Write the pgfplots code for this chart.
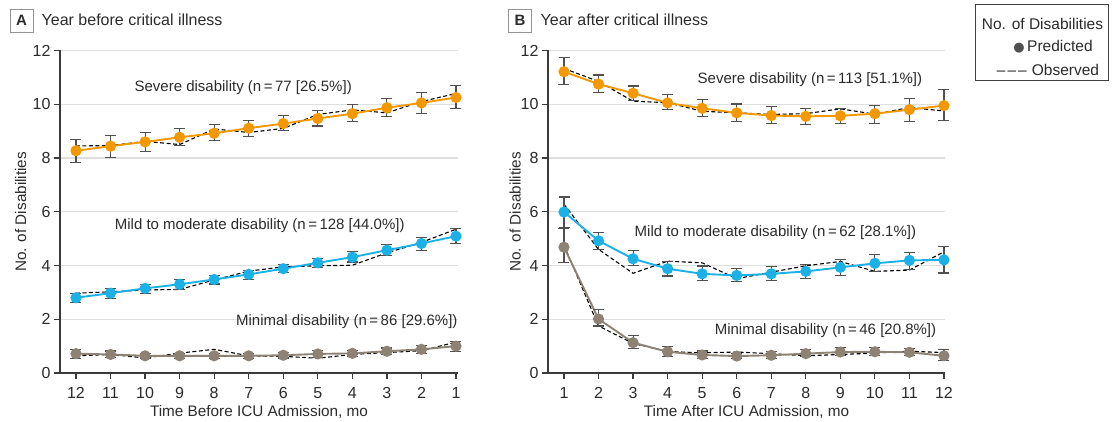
\documentclass[border=0pt]{standalone}
\usepackage{fontspec}
\setmainfont{Liberation Sans}
\newfontfamily\symfont{DejaVu Sans}
\usepackage{pgfplots}
\usepackage{pgfplotstable}
\pgfplotsset{compat=1.18}

\definecolor{cOrange}{HTML}{F39800}
\definecolor{cBlue}{HTML}{1BB1E7}
\definecolor{cGray}{HTML}{8D8273}
\definecolor{errgray}{HTML}{505050}
\definecolor{axisgray}{HTML}{3A3A3A}
\definecolor{gridgray}{HTML}{DEDEDE}
\definecolor{txt}{HTML}{2B2B2B}

% Panel A: year before critical illness
\pgfplotstableread{
x  p     ep   em   o
12 8.27  0.43 0.44 8.45
11 8.44  0.40 0.41 8.46
10 8.60  0.35 0.36 8.62
9  8.77  0.33 0.32 8.50
8  8.92  0.33 0.28 9.08
7  9.11  0.30 0.30 8.95
6  9.28  0.29 0.25 9.10
5  9.47  0.30 0.28 9.62
4  9.65  0.33 0.29 9.79
3  9.87  0.33 0.32 9.68
2  10.05 0.38 0.38 10.10
1  10.25 0.45 0.42 10.40
}\tabASev
\pgfplotstableread{
x  p    ep   em   o
12 2.80 0.17 0.19 2.97
11 2.97 0.16 0.19 3.02
10 3.15 0.15 0.19 3.09
9  3.30 0.17 0.18 3.11
8  3.48 0.15 0.17 3.46
7  3.67 0.13 0.18 3.79
6  3.88 0.15 0.15 3.95
5  4.10 0.16 0.17 3.99
4  4.31 0.20 0.18 4.01
3  4.57 0.21 0.20 4.47
2  4.82 0.22 0.26 4.86
1  5.09 0.27 0.28 5.35
}\tabAMild
\pgfplotstableread{
x  p    ep   em   o
12 0.72 0.17 0.17 0.64
11 0.69 0.13 0.12 0.69
10 0.64 0.10 0.10 0.56
9  0.64 0.10 0.10 0.74
8  0.64 0.10 0.10 0.88
7  0.64 0.10 0.10 0.64
6  0.66 0.10 0.10 0.62
5  0.71 0.12 0.12 0.55
4  0.73 0.12 0.12 0.69
3  0.81 0.12 0.12 0.76
2  0.88 0.15 0.15 0.83
1  1.00 0.18 0.21 1.15
}\tabAMin

% Panel B: year after critical illness
\pgfplotstableread{
x  p     ep   em   o
1  11.21 0.53 0.47 11.33
2  10.75 0.34 0.32 10.85
3  10.41 0.27 0.26 10.11
4  10.05 0.32 0.25 10.06
5  9.85  0.32 0.31 9.74
6  9.68  0.33 0.31 9.68
7  9.58  0.32 0.30 9.62
8  9.55  0.29 0.29 9.65
9  9.57  0.28 0.30 9.83
10 9.65  0.30 0.36 9.63
11 9.80  0.40 0.44 9.88
12 9.95  0.61 0.57 9.75
}\tabBSev
\pgfplotstableread{
x  p    ep   em   o
1  5.99 0.56 0.61 6.28
2  4.92 0.30 0.32 4.60
3  4.25 0.30 0.26 3.71
4  3.88 0.27 0.27 4.16
5  3.69 0.29 0.26 4.10
6  3.63 0.25 0.22 3.51
7  3.69 0.26 0.24 3.75
8  3.78 0.27 0.27 3.99
9  3.93 0.30 0.30 4.15
10 4.08 0.32 0.30 3.78
11 4.19 0.30 0.35 3.83
12 4.21 0.50 0.49 4.51
}\tabBMild
\pgfplotstableread{
x  p    ep   em   o
1  4.68 0.74 0.58 4.75
2  2.01 0.36 0.26 1.75
3  1.13 0.26 0.23 1.10
4  0.79 0.19 0.17 0.80
5  0.67 0.15 0.14 0.75
6  0.63 0.10 0.10 0.78
7  0.66 0.13 0.12 0.72
8  0.72 0.15 0.12 0.64
9  0.78 0.16 0.14 0.69
10 0.79 0.17 0.13 0.74
11 0.77 0.15 0.12 0.81
12 0.64 0.22 0.18 0.76
}\tabBMin

\pgfplotsset{
  panel/.style={
    scale only axis, height=322.5pt,
    ymin=0, ymax=12, ytick={0,2,...,12},
    xtick={1,...,12},
    axis x line*=bottom, axis y line*=left,
    axis line style={draw=axisgray, line width=1.2pt, -},
    ymajorgrids, grid style={gridgray, line width=1.2pt},
    tick style={axisgray, line width=1.2pt},
    tick align=outside, major tick length=6pt,
    tick label style={font=\fontsize{16}{19}\selectfont, text=txt},
    xticklabel style={yshift=-4.5pt},
    /pgf/number format/assume math mode=true,
    clip=false,
    every axis x label/.style={at={(axis description cs:0.5,-0.12)}, anchor=center,
      font=\fontsize{15.3}{18}\selectfont, text=txt},
  },
  obs/.style={black, line width=1.1pt, dash pattern=on 4pt off 2.5pt},
  pred/.style={#1, line width=1.9pt, mark=*, mark size=4.6pt, mark options={solid, fill=#1, draw=#1},
    error bars/.cd, y dir=both, y explicit,
    error bar style={errgray, line width=1.1pt, solid},
    error mark options={rotate=90, mark size=5.5pt, errgray, line width=1.1pt}},
}
\tikzset{ann/.style={font=\fontsize{15}{18}\selectfont, text=txt, inner sep=0pt, anchor=center},
  ylab/.style={rotate=90, anchor=center, font=\fontsize{15.3}{18}\selectfont, text=txt}}

\begin{document}
\begin{tikzpicture}
\path[use as bounding box] (0pt,0pt) rectangle (1114pt,421pt);

% ---------- Panel A ----------
\node[draw=gray!85, line width=0.8pt, minimum size=23pt, inner sep=0pt, font=\bfseries\fontsize{15}{18}\selectfont, text=txt] at (21.5pt,400.2pt) {A};
\node[anchor=base west, inner sep=0pt, font=\fontsize{16}{19}\selectfont, text=txt] at (41.5pt,395pt) {Year before critical illness};

\begin{axis}[panel, at={(60pt,48pt)}, anchor=south west, width=398pt,
  x dir=reverse, xmin=0.942, xmax=12.463,
  every axis y label/.style={at={(axis description cs:-0.099,0.5)}, ylab},
  xlabel={Time Before ICU Admission, mo}, ylabel={No. of Disabilities}]
  \addplot[obs] table[x=x,y=o] {\tabASev};
  \addplot[pred=cOrange] table[x=x,y=p,y error plus=ep,y error minus=em] {\tabASev};
  \addplot[obs] table[x=x,y=o] {\tabAMild};
  \addplot[pred=cBlue] table[x=x,y=p,y error plus=ep,y error minus=em] {\tabAMild};
  \addplot[obs] table[x=x,y=o] {\tabAMin};
  \addplot[pred=cGray] table[x=x,y=p,y error plus=ep,y error minus=em] {\tabAMin};
  \node[ann] at (axis cs:7.16,10.63) {Severe disability (n\,=\,77 [26.5\%])};
  \node[ann] at (axis cs:6.68,5.50) {Mild to moderate disability (n\,=\,128 [44.0\%])};
  \node[ann] at (axis cs:4.16,1.91) {Minimal disability (n\,=\,86 [29.6\%])};
\end{axis}

% ---------- Panel B ----------
\node[draw=gray!85, line width=0.8pt, minimum size=23pt, inner sep=0pt, font=\bfseries\fontsize{15}{18}\selectfont, text=txt] at (520pt,400.2pt) {B};
\node[anchor=base west, inner sep=0pt, font=\fontsize{16}{19}\selectfont, text=txt] at (540.5pt,395pt) {Year after critical illness};

\begin{axis}[panel, at={(548pt,48pt)}, anchor=south west, width=397pt,
  xmin=0.537, xmax=12.03,
  every axis y label/.style={at={(axis description cs:-0.083,0.5)}, ylab},
  xlabel={Time After ICU Admission, mo}, ylabel={No. of Disabilities}]
  \addplot[obs] table[x=x,y=o] {\tabBSev};
  \addplot[pred=cOrange] table[x=x,y=p,y error plus=ep,y error minus=em] {\tabBSev};
  \addplot[obs] table[x=x,y=o] {\tabBMild};
  \addplot[pred=cBlue] table[x=x,y=p,y error plus=ep,y error minus=em] {\tabBMild};
  \addplot[obs] table[x=x,y=o] {\tabBMin};
  \addplot[pred=cGray] table[x=x,y=p,y error plus=ep,y error minus=em] {\tabBMin};
  \node[ann] at (axis cs:8.12,10.93) {Severe disability (n\,=\,113 [51.1\%])};
  \node[ann] at (axis cs:7.12,5.23) {Mild to moderate disability (n\,=\,62 [28.1\%])};
  \node[ann] at (axis cs:8.57,1.56) {Minimal disability (n\,=\,46 [20.8\%])};
\end{axis}

% ---------- Legend ----------
\draw[black!75, line width=0.8pt] (975.5pt,340.5pt) rectangle (1108.5pt,416.3pt);
\node[inner sep=0pt, font=\fontsize{15.5}{18}\selectfont, text=txt] at (1042.5pt,397.5pt) {No. of Disabilities};
\node[inner sep=0pt, font=\fontsize{15.5}{18}\selectfont, text=txt] at (1053pt,374pt) {{\symfont\fontsize{13}{15}\selectfont\color{errgray}●}\,Predicted};
\node[inner sep=0pt, font=\fontsize{15.5}{18}\selectfont, text=txt] at (1048pt,351pt) {–\kern2pt–\kern2pt–\kern5pt Observed};
\end{tikzpicture}
\end{document}
